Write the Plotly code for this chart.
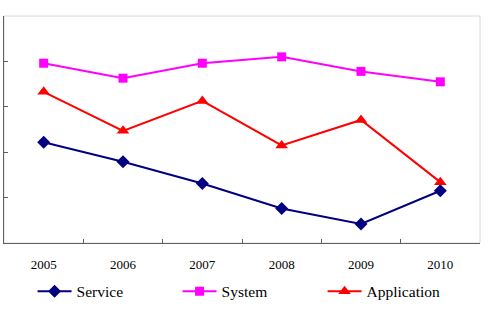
import plotly.graph_objects as go

years = ["2005", "2006", "2007", "2008", "2009", "2010"]
service = [2.22, 1.79, 1.31, 0.76, 0.42, 1.15]
system = [3.96, 3.63, 3.96, 4.10, 3.78, 3.55]
application = [3.33, 2.47, 3.13, 2.15, 2.71, 1.34]

serif = "Liberation Serif, Times New Roman, serif"

fig = go.Figure()
fig.add_trace(go.Scatter(x=years, y=service, name="Service", mode="lines+markers",
                         line=dict(color="#000080", width=2),
                         marker=dict(symbol="diamond", size=10, color="#000080")))
fig.add_trace(go.Scatter(x=years, y=system, name="System", mode="lines+markers",
                         line=dict(color="#FF00FF", width=2),
                         marker=dict(symbol="square", size=9, color="#FF00FF")))
fig.add_trace(go.Scatter(x=years, y=application, name="Application", mode="lines+markers",
                         line=dict(color="#FF0000", width=2),
                         marker=dict(symbol="triangle-up", size=11, color="#FF0000")))

fig.update_layout(
    width=491, height=312,
    margin=dict(l=4, r=11, t=16, b=69, autoexpand=False),
    paper_bgcolor="white", plot_bgcolor="white",
    font=dict(family=serif, color="black"),
    showlegend=True,
    legend=dict(orientation="h", x=0.06, xanchor="left", y=-0.14, yanchor="top",
                font=dict(size=15.5, family=serif),
                entrywidth=96, entrywidthmode="pixels", itemwidth=34,
                traceorder="normal", bgcolor="rgba(0,0,0,0)"),
    xaxis=dict(type="category", range=[-0.5, 5.5], tickson="boundaries",
               ticks="inside", ticklen=4, tickcolor="#606060",
               showline=True, linecolor="#606060", linewidth=1,
               showgrid=False, zeroline=False, ticklabelstandoff=9,
               tickfont=dict(size=13, family=serif)),
    yaxis=dict(range=[0, 5], dtick=1, ticks="inside", ticklen=4, tickcolor="#606060",
               showline=True, linecolor="#606060", linewidth=1,
               showgrid=False, zeroline=False, showticklabels=False),
    shapes=[dict(type="rect", xref="paper", yref="paper", x0=0, x1=1, y0=0, y1=1,
                 line=dict(color="#D8D8D8", width=1), layer="below")],
)

fig.write_html("out.html")
